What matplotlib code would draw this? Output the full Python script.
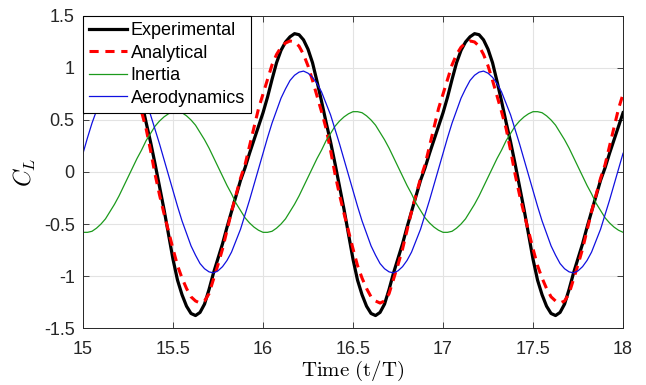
import numpy as np
import matplotlib
matplotlib.use('Agg')
from matplotlib import pyplot as plt

# jedan period (faza t mod 1, korak 0.025) ocitan sa slike, ponavlja se za 15-16, 16-17, 17-18
faza = np.arange(40) * 0.025
periodi = [15, 16, 17]

experimental = [0.57, 0.72, 0.89, 1.05, 1.17, 1.25, 1.30, 1.33, 1.32, 1.27,
                1.18, 1.05, 0.87, 0.68, 0.48, 0.29, 0.08, -0.14, -0.36, -0.60,
                -0.84, -1.04, -1.18, -1.29, -1.36, -1.38, -1.35, -1.27, -1.13, -0.97,
                -0.83, -0.69, -0.53, -0.38, -0.23, -0.08, 0.04, 0.18, 0.31, 0.44]
analytical = [0.75, 0.89, 1.03, 1.13, 1.20, 1.24, 1.26, 1.25, 1.21, 1.13,
              1.02, 0.88, 0.73, 0.58, 0.42, 0.21, -0.02, -0.22, -0.40, -0.57,
              -0.74, -0.90, -1.02, -1.12, -1.20, -1.24, -1.26, -1.24, -1.17, -1.03,
              -0.89, -0.74, -0.56, -0.38, -0.22, -0.06, 0.07, 0.25, 0.43, 0.61]
inertia = [-0.58, -0.58, -0.57, -0.54, -0.50, -0.45, -0.38, -0.31, -0.23, -0.14,
           -0.05, 0.04, 0.13, 0.21, 0.30, 0.37, 0.44, 0.49, 0.53, 0.56,
           0.58, 0.58, 0.57, 0.54, 0.50, 0.45, 0.38, 0.31, 0.23, 0.14,
           0.05, -0.04, -0.13, -0.21, -0.30, -0.37, -0.44, -0.49, -0.53, -0.56]
aerodynamics = [0.18, 0.33, 0.47, 0.59, 0.71, 0.80, 0.88, 0.93, 0.96, 0.97,
                0.95, 0.91, 0.85, 0.77, 0.66, 0.55, 0.41, 0.27, 0.12, -0.03,
                -0.18, -0.33, -0.47, -0.59, -0.71, -0.80, -0.88, -0.93, -0.96, -0.97,
                -0.95, -0.91, -0.85, -0.77, -0.66, -0.55, -0.41, -0.27, -0.12, 0.03]

# vreme za sva tri perioda + krajnja tacka t = 18
t = np.concatenate([p + faza for p in periodi] + [[18.0]])


def tri_perioda(vrednosti):
    return np.array(vrednosti * len(periodi) + [vrednosti[0]])


plt.rcParams['font.family'] = ['Liberation Sans', 'DejaVu Sans']
plt.rcParams['mathtext.fontset'] = 'cm'

fig = plt.figure(figsize=(6.46, 3.85), dpi=100)
ax = fig.add_axes([0.1285, 0.148, 0.836, 0.8105])

ax.plot(t, tri_perioda(experimental), color='black', lw=2.3, label='Experimental')
ax.plot(t, tri_perioda(analytical), color='red', lw=2.2, ls=(0, (3, 2.2)), label='Analytical')
ax.plot(t, tri_perioda(inertia), color='#1c9a1c', lw=0.9, label='Inertia')
ax.plot(t, tri_perioda(aerodynamics), color='#1010e0', lw=0.9, label='Aerodynamics')

ax.set_xlim(15, 18)
ax.set_ylim(-1.5, 1.5)
ax.set_xticks([15, 15.5, 16, 16.5, 17, 17.5, 18])
ax.set_xticklabels(['15', '15.5', '16', '16.5', '17', '17.5', '18'])
ax.set_yticks([-1.5, -1, -0.5, 0, 0.5, 1, 1.5])
ax.set_yticklabels(['-1.5', '-1', '-0.5', '0', '0.5', '1', '1.5'])
ax.tick_params(direction='in', length=4, width=0.6, colors='#262626', labelsize=13,
               top=True, right=True)
ax.tick_params(axis='x', pad=9)
ax.tick_params(axis='y', pad=6)
ax.grid(True, color='#e3e3e3', lw=0.8)
ax.set_axisbelow(True)
for s in ax.spines.values():
    s.set_color('#262626')
    s.set_linewidth(0.7)

ax.set_xlabel(r'$\mathrm{Time\ (t/T)}$', fontsize=15, labelpad=1)
ax.set_ylabel(r'$C_L$', fontsize=17, labelpad=4)

leg = ax.legend(loc='upper left', fontsize=13, frameon=True, fancybox=False,
                borderaxespad=0, handlelength=2.1, handletextpad=0.2,
                borderpad=0.35, labelspacing=0.3)
leg.get_frame().set_edgecolor('black')
leg.get_frame().set_linewidth(0.8)
leg.get_frame().set_alpha(1)

fig.savefig('out.png', dpi=100)
